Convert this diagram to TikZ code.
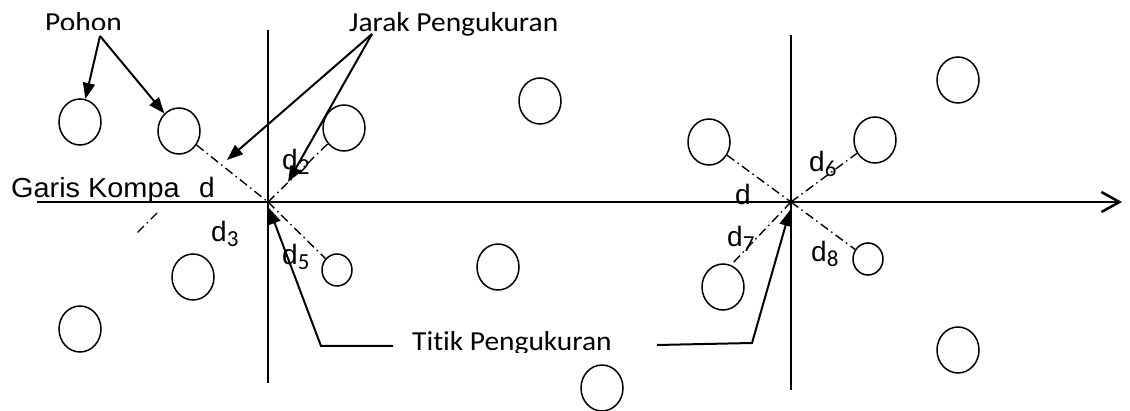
\documentclass[tikz,border=0pt]{standalone}
\usepackage{fontspec}
\setmainfont{Liberation Sans}
\newfontfamily\calfont[Ligatures=NoCommon]{Carlito}
\usetikzlibrary{arrows.meta,shapes.geometric}
\newcommand\ctext[1]{\scalebox{1.07}[1]{\calfont\fontsize{27.5}{32}\selectfont #1}}
\newcommand\atext[1]{\scalebox{1.05}[1]{\fontsize{27.5}{32}\selectfont #1}}
\newcommand\dl{\fontsize{28}{32}\selectfont d}
\newcommand\dsub[1]{\dl\raisebox{-5pt}{\calfont\fontsize{23}{26}\selectfont #1}}
\begin{document}
\begin{tikzpicture}[x=1pt,y=-1pt,
 tree/.style={draw,ellipse,line width=1.5pt,minimum width=42pt,minimum height=46pt,inner sep=0pt},
 smalltree/.style={tree,minimum width=30pt,minimum height=32pt},
 ddot/.style={line width=1.4pt,dash pattern=on 9pt off 4pt on 1.5pt off 4pt},
 pointer/.style={line width=2pt,-{Triangle[length=16pt,width=12pt]}},
 lab/.style={inner sep=0pt,anchor=base west},
 ]
\useasboundingbox (0,0) rectangle (1130,411);
% trees
\node[tree] (c1) at (80,122) {};
\node[tree] (c2) at (179,131) {};
\node[tree] (c3) at (344,128) {};
\node[tree] (c15) at (540,101) {};
\node[tree] (c4) at (709,142) {};
\node[tree] (c6) at (875,140) {};
\node[tree] (c9) at (958,80) {};
\node[tree] (c10) at (193,277) {};
\node[tree] (c11) at (80,329) {};
\node[smalltree] (c5) at (337,270) {};
\node[tree] (c12) at (498,267) {};
\node[tree] (c7) at (723,287) {};
\node[smalltree] (c8) at (868,259) {};
\node[tree] (c13) at (602,388) {};
\node[tree] (c14) at (958,350) {};
% points and lines
\coordinate (P1) at (268,202);
\coordinate (P2) at (791,202);
\coordinate (axL) at (37,202);
\coordinate (axR) at (1122,202);
\coordinate (v1t) at (268,30);
\coordinate (v1b) at (268,383);
\coordinate (v2t) at (791,35);
\coordinate (v2b) at (791,390);
\draw[line width=2pt] (v1t) -- (v1b);
\draw[line width=2pt] (v2t) -- (v2b);
% dash-dot distances
\coordinate (s1) at (157,213);
\coordinate (s2) at (137,233);
\draw[ddot] (c2) -- (P1);
\draw[ddot] (P1) -- (c3);
\draw[ddot] (P1) -- (c5);
\draw[ddot] (s1) -- (s2);
\draw[ddot] (c4) -- (P2);
\draw[ddot] (P2) -- (c6);
\draw[ddot] (P2) -- (c7.70);
\draw[ddot] (P2) -- (c8);
% labels
\begin{scope}
\clip (0,0) rectangle (300,30);
\node[lab] (pohon) at (45,32) {\ctext{Pohon}};
\end{scope}
\node[lab] (jarak) at (349,32) {\ctext{Jarak Pengukuran}};
\begin{scope}
\clip (380,300) rectangle (650,353);
\node[lab] (titik) at (412,351) {\ctext{Titik Pengukuran}};
\end{scope}
\node[lab] (garis) at (11,198) {\atext{Garis Kompa}};
\node[lab] (d1) at (199,198) {\dl};
\node[lab] (d2) at (282,170) {\dsub{2}};
\node[lab] (d3) at (211,242) {\dsub{3}};
\node[lab] (d5) at (282,265) {\dsub{5}};
\node[lab] (d4) at (735,205) {\dl};
\node[lab] (d6) at (809,172) {\dsub{6}};
\node[lab] (d7) at (727,247) {\dsub{7}};
\node[lab] (d8) at (811,262) {\dsub{8}};
% compass line
\draw[line width=2.5pt,-{Straight Barb[length=18pt,width=20pt]}] (axL) -- (axR);
% pointers
\coordinate (pA) at (100,36);
\draw[pointer] (pA) -- (c1);
\draw[pointer] (pA) -- (c2);
\coordinate (jA) at (372,34);
\coordinate (jT1) at (227,160);
\coordinate (jT2) at (288,182);
\draw[pointer] (jA) -- (jT1);
\draw[pointer] (jA) -- (jT2);
\coordinate (tL) at (393,346);
\coordinate (tLc) at (321,346);
\coordinate (tip1) at (269,208);
\coordinate (tR) at (657,345);
\coordinate (tRc) at (752,343);
\coordinate (tip2) at (790,210);
\draw[pointer] (tL) -- (tLc) -- (tip1);
\draw[pointer] (tR) -- (tRc) -- (tip2);
\end{tikzpicture}
\end{document}
